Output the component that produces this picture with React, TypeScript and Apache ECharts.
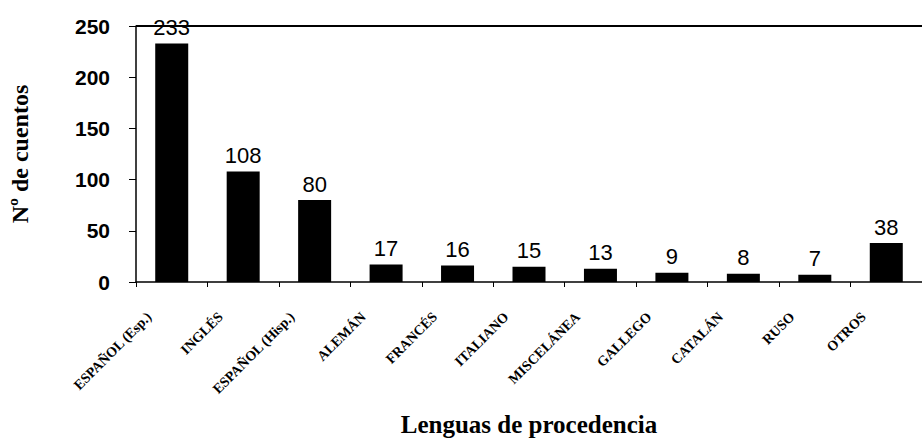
import React, { useEffect, useRef } from "react";
import * as echarts from "echarts";

const categories = [
  "ESPAÑOL (Esp.)",
  "INGLÉS",
  "ESPAÑOL (Hisp.)",
  "ALEMÁN",
  "FRANCÉS",
  "ITALIANO",
  "MISCELÁNEA",
  "GALLEGO",
  "CATALÁN",
  "RUSO",
  "OTROS",
];
const values = [233, 108, 80, 17, 16, 15, 13, 9, 8, 7, 38];
const yTicks = { min: 0, max: 250, step: 50 };
const yTitle = "Nº de cuentos";
const xTitle = "Lenguas de procedencia";

export default function App() {
  const ref = useRef<HTMLDivElement>(null);
  useEffect(() => {
    if (!ref.current) return;
    const chart = echarts.init(ref.current, undefined, { renderer: "svg" });
    chart.setOption({
      animation: false,
      backgroundColor: "#ffffff",
      grid: {
        left: 127,
        right: 0,
        top: 26,
        bottom: 154,
        containLabel: false,
      },
      xAxis: {
        type: "category",
        data: categories,
        position: "bottom",
        axisLine: { show: true, onZero: false, lineStyle: { color: "#000", width: 1.5 } },
        axisTick: { show: true, alignWithLabel: false, length: 5, lineStyle: { color: "#000" } },
        axisLabel: {
          interval: 0,
          rotate: 45,
          margin: 10,
          padding: [0, 32, 25, 0],
          color: "#000",
          fontFamily: "Liberation Serif",
          fontWeight: "bold",
          fontSize: 14,
        },
        name: xTitle,
        nameLocation: "middle",
        nameGap: 130,
        nameTextStyle: {
          color: "#000",
          fontFamily: "Liberation Serif",
          fontWeight: "bold",
          fontSize: 25,
        },
      },
      yAxis: {
        type: "value",
        min: yTicks.min,
        max: yTicks.max,
        interval: yTicks.step,
        axisLine: { show: true, lineStyle: { color: "#000", width: 1.5 } },
        axisTick: { show: true, length: 7, lineStyle: { color: "#000" } },
        splitLine: { show: false },
        axisLabel: {
          margin: 26,
          color: "#000",
          fontFamily: "Liberation Sans",
          fontWeight: "bold",
          fontSize: 21,
        },
        name: yTitle,
        nameLocation: "middle",
        nameRotate: 90,
        nameGap: 104,
        nameTextStyle: {
          color: "#000",
          fontFamily: "Liberation Serif",
          fontWeight: "bold",
          fontSize: 24,
        },
      },
      series: [
        {
          type: "bar",
          data: values,
          barWidth: 33,
          itemStyle: { color: "#000" },
          label: {
            show: true,
            position: "top",
            distance: 5,
            color: "#000",
            fontFamily: "Liberation Sans",
            fontSize: 22,
          },
          markLine: {
            silent: true,
            symbol: ["none", "none"],
            label: { show: false },
            lineStyle: { color: "#000000", type: "solid", width: 2, opacity: 1 },
            emphasis: { disabled: true },
            data: [{ yAxis: yTicks.max }],
          },
        },
      ],
    });
    return () => chart.dispose();
  }, []);
  return (
    <div
      ref={ref}
      style={{ position: "fixed", left: 0, top: 0, width: 922, height: 442 }}
    />
  );
}
